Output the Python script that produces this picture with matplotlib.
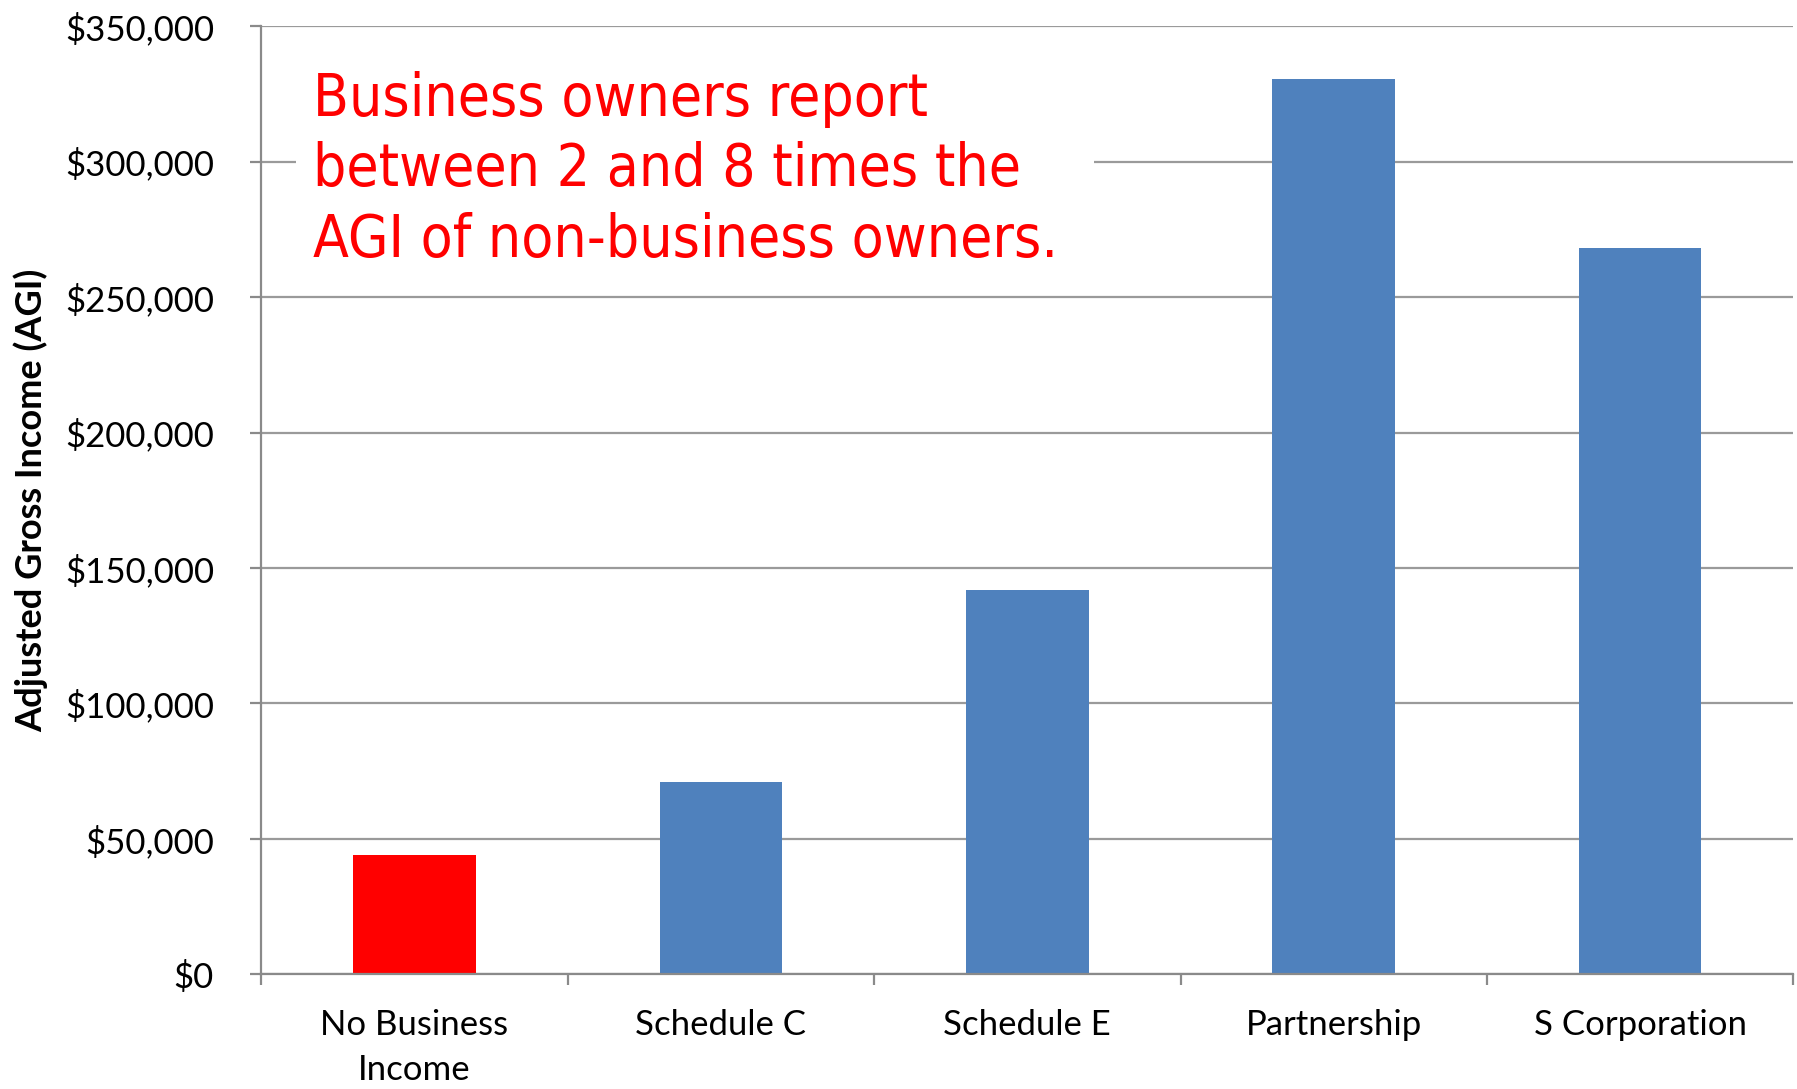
import matplotlib
matplotlib.use("Agg")
import matplotlib.pyplot as plt
from matplotlib.patches import Rectangle
from matplotlib.ticker import FuncFormatter, FixedLocator

categories = ["No Business\nIncome", "Schedule C", "Schedule E", "Partnership", "S Corporation"]
agi_values = [44000, 71000, 142000, 330500, 268000]
bar_colors = ["#FF0000", "#4F81BD", "#4F81BD", "#4F81BD", "#4F81BD"]
y_ticks = [0, 50000, 100000, 150000, 200000, 250000, 300000, 350000]
y_label = "Adjusted Gross Income (AGI)"
note = "Business owners report\nbetween 2 and 8 times the\nAGI of non-business owners."

fig = plt.figure(figsize=(17.97, 10.89), dpi=100)
ax = fig.add_axes([0.1454, 0.1053, 0.8526, 0.8705])

x = list(range(len(categories)))
ax.bar(x, agi_values, width=0.4, color=bar_colors, zorder=2)

ax.set_xlim(-0.5, len(categories) - 0.5)
ax.set_ylim(0, 350000)
ax.set_yticks(y_ticks)
ax.yaxis.set_major_formatter(FuncFormatter(lambda v, p: "${:,.0f}".format(v)))
ax.grid(axis="y", color="#9a9a9a", linewidth=1.6, zorder=0)
ax.set_axisbelow(True)

ax.set_xticks(x)
ax.set_xticklabels(categories, fontsize=25, family=["Lato", "DejaVu Sans"], linespacing=1.5)
ax.xaxis.set_minor_locator(FixedLocator([i - 0.5 for i in range(len(categories) + 1)]))
ax.tick_params(axis="x", which="major", length=0, pad=25)
ax.tick_params(axis="x", which="minor", length=8, width=1.6, color="#8a8a8a", direction="out")
ax.tick_params(axis="y", which="major", length=8, width=1.6, color="#8a8a8a", pad=26, labelsize=25)
for lab in ax.get_yticklabels():
    lab.set_family(["Lato", "DejaVu Sans"])

for s in ["top", "right"]:
    ax.spines[s].set_visible(False)
for s in ["left", "bottom"]:
    ax.spines[s].set_color("#8a8a8a")
    ax.spines[s].set_linewidth(1.6)

ax.set_ylabel(y_label, fontsize=26, fontweight="bold", family=["Lato", "DejaVu Sans"])
ax.yaxis.set_label_coords(-0.139, 0.5)

# white background behind the note (hides the gridline beneath it)
ax.add_patch(Rectangle((0.0224, 0.75), 0.5214, 0.23, transform=ax.transAxes,
                       facecolor="white", edgecolor="none", zorder=4))
ax.text(0.034, 0.953, note, transform=ax.transAxes, ha="left", va="top",
        color="#FF0000", fontsize=42, family="DejaVu Sans", fontstretch="condensed",
        linespacing=1.3, zorder=5)

fig.savefig("out.png", dpi=100, facecolor="white")
